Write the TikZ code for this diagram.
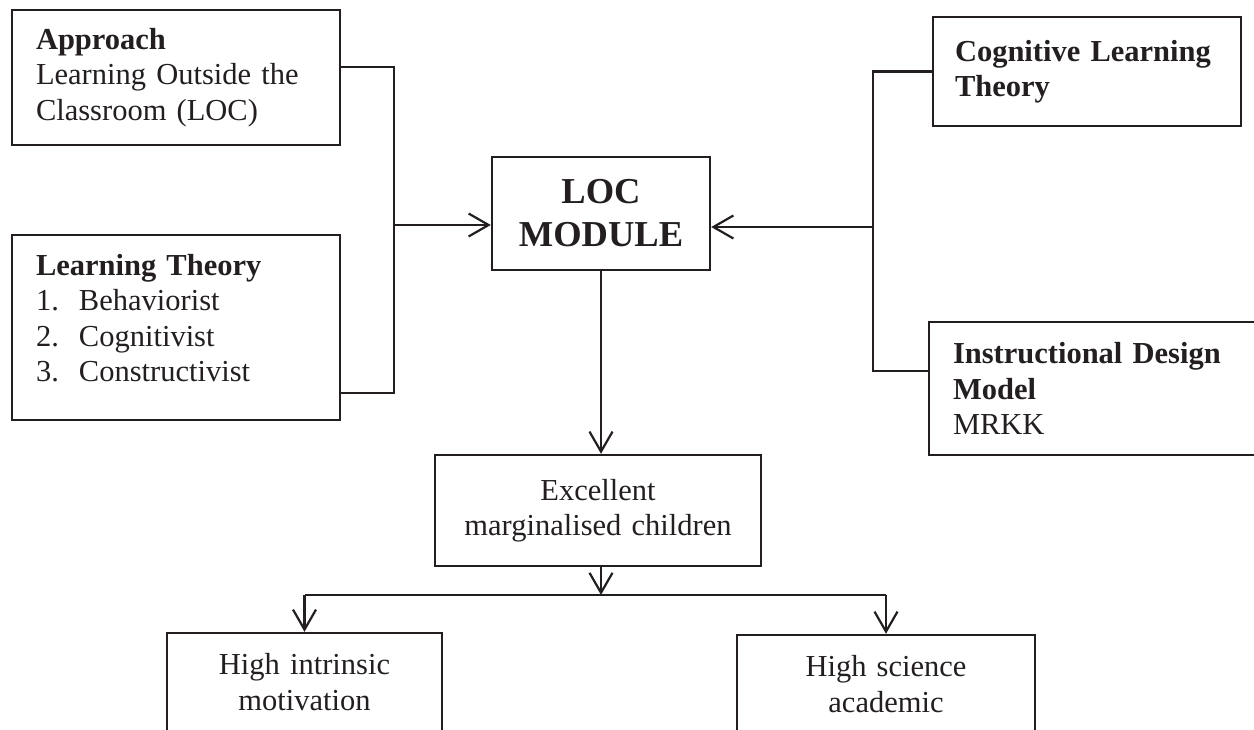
\documentclass[tikz,border=0pt]{standalone}
\usepackage{fontspec}
\setmainfont{Liberation Serif}
\usetikzlibrary{arrows.meta}
\definecolor{ink}{HTML}{231F20}

\begin{document}
\begin{tikzpicture}[x=1pt, y=-1pt, line width=2.2pt, color=ink,
    >={Straight Barb[length=20pt,width=23pt]}]
\tikzstyle{every node}=[font=\fontsize{30.5}{35.5}\selectfont]
\tikzstyle{box}=[draw, inner ysep=0pt, line width=2.4pt]
\tikzstyle{sidebox}=[box, align=left, inner xsep=24pt]
\tikzstyle{midbox}=[box, align=center, inner xsep=10pt]
\useasboundingbox (0,0) rectangle (1254,729);
\clip (0,0) rectangle (1254,729);

  % left column
  \node[sidebox, text width=280pt, minimum height=135pt] (appr) at (176,77.5)
    {\textbf{Approach}\\Learning Outside the\\Classroom (LOC)};
  \node[sidebox, text width=280pt, minimum height=185pt, text depth=126pt] (ltheory) at (176,327.5)
    {\textbf{Learning Theory}\\
     \makebox[43pt][l]{1.}Behaviorist\\
     \makebox[43pt][l]{2.}Cognitivist\\
     \makebox[43pt][l]{3.}Constructivist};

  % right column
  \node[sidebox, inner xsep=22pt, text width=264pt, minimum height=109pt] (cogl) at (1087,71.5)
    {\textbf{Cognitive Learning}\\\textbf{Theory}};
  \node[sidebox, text width=285pt, minimum height=133pt] (instr) at (1095.5,388.5)
    {\textbf{Instructional Design}\\\textbf{Model}\\MRKK};

  % middle
  \node[midbox, text width=198pt, minimum height=113pt,
        font=\fontsize{36.5}{43}\selectfont\bfseries] (loc) at (601,213.5) {LOC\\MODULE};
  \node[midbox, text width=306pt, minimum height=111pt] (excel) at (598,510.5)
    {Excellent\\marginalised children};
  \node[midbox, text width=255pt, minimum height=98pt] (hint) at (304.5,682)
    {High intrinsic\\motivation};
  \node[midbox, text width=278pt, minimum height=98pt] (hsci) at (886,684)
    {High science\\academic};

  % brackets into the module
  \coordinate (ljoin) at (393,225);
  \coordinate (rjoin) at (874,227);
  \coordinate (fork) at (601,595);
  \draw ([yshift=-58pt]appr.north east) -- ++(53,0) |- ([yshift=-159pt]ltheory.north east);
  \draw (cogl.west) -- ++(-59,0) |- ([yshift=-50pt]instr.north west);
  \draw[->] (ljoin) -- (ljoin -| loc.west);
  \draw[->] (rjoin) -- (rjoin -| loc.east);

  % down to the outcomes
  \draw[->] (loc.south) -- (loc.south |- excel.north);
  \draw[->] (fork |- excel.south) -- (fork);
  \draw (hint.north |- fork) -- (hsci.north |- fork);
  \foreach \dest in {hint,hsci}
      \draw[->] (\dest.north |- fork) -- (\dest.north);
\end{tikzpicture}
\end{document}
